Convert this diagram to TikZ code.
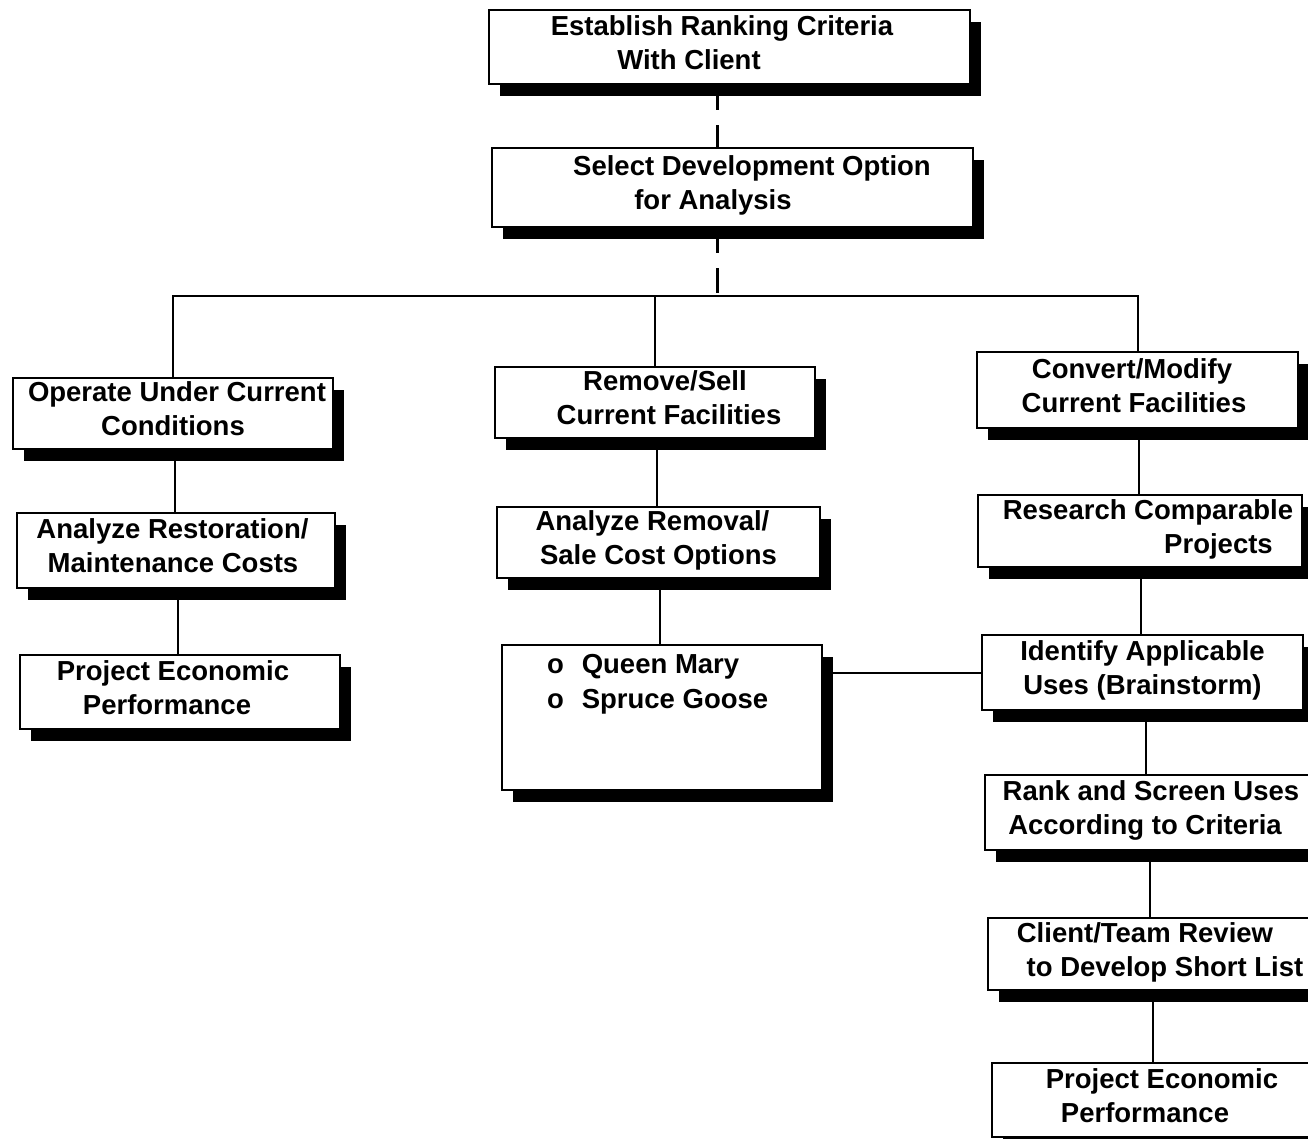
\documentclass[tikz,border=0pt]{standalone}
\usepackage{fontspec}
\setmainfont{Liberation Sans}
\usetikzlibrary{shadows,calc}
\newcommand\gap[1]{\makebox[#1]{}}
\begin{document}
\begin{tikzpicture}[x=0.5pt,y=-0.5pt,
  boxbase/.style={draw=black, line width=1.2pt, fill=white, inner sep=0pt, align=center,
    font=\bfseries\fontsize{13.75pt}{17pt}\selectfont,
    drop shadow={shadow xshift=5.5pt, shadow yshift=-6pt, fill=black, opacity=1}},
  box/.style={boxbase, text depth=4.5pt},
  link/.style={line width=1pt},
  dashlink/.style={line width=1.5pt, dash pattern=on 12.5pt off 7.5pt}]
\useasboundingbox (0,0) rectangle (1308,1139);

% top boxes
\node[box, minimum width=240.5pt, minimum height=37pt] (b1) at (729.5,47)
  {Establish Ranking Criteria\gap{7.5pt}\\With Client\gap{40.5pt}};
\node[box, minimum width=240.5pt, minimum height=39.5pt] (b2) at (732.5,187.5)
  {\gap{19.5pt}Select Development Option\\for Analysis\gap{19.5pt}};

% left column
\node[box, minimum width=160pt, minimum height=35.5pt] (b3) at (173,413.5)
  {\gap{4pt}Operate Under Current\\Conditions};
\node[box, minimum width=159pt, minimum height=37.5pt] (b4) at (176,550.5)
  {Analyze Restoration/\gap{3.5pt}\\Maintenance Costs\gap{3pt}};
\node[box, minimum width=160pt, minimum height=37pt] (b5) at (180,692)
  {Project Economic\gap{7pt}\\Performance\gap{13pt}};

% middle column
\node[box, minimum width=160pt, minimum height=35.5pt] (b6) at (655,402.5)
  {\gap{10pt}Remove/Sell\\\gap{14pt}Current Facilities};
\node[box, minimum width=161.5pt, minimum height=35.5pt] (b7) at (658.5,542.5)
  {Analyze Removal/\gap{6pt}\\Sale Cost Options};
\node[boxbase, minimum width=160pt, minimum height=72.5pt] (b8) at (662,717.5)
  {\parbox[c][72.5pt][t]{160pt}{\raggedright\baselineskip=17.5pt
    \vspace*{4.5pt}\hspace*{22.5pt}o\hspace{9pt}Queen Mary\\
    \hspace*{22.5pt}o\hspace{9pt}Spruce Goose}};

% right column
\node[box, minimum width=160.5pt, minimum height=38pt] (b9) at (1137.5,390)
  {Convert/Modify\gap{5.5pt}\\Current Facilities\gap{3.5pt}};
\node[box, minimum width=162pt, minimum height=36pt] (b10) at (1140,531)
  {\gap{8pt}Research Comparable\\\gap{78.5pt}Projects};
\node[box, minimum width=160.5pt, minimum height=37.5pt] (b11) at (1142.5,672.5)
  {Identify Applicable\\Uses (Brainstorm)};
\node[box, minimum width=163.5pt, minimum height=37.5pt] (b12) at (1148.5,812.5)
  {\gap{2.5pt}Rank and Screen Uses\\According to Criteria\gap{3.5pt}};
\node[box, minimum width=163pt, minimum height=36pt] (b13) at (1151,954)
  {Client/Team Review\gap{6pt}\\\gap{14pt}to Develop Short List};
\node[box, minimum width=162pt, minimum height=37pt] (b14) at (1154,1100)
  {\gap{8pt}Project Economic\\Performance\gap{9pt}};

% dashed trunk
\coordinate (hub) at (717,296);
\draw[dashlink] (b1.south -| hub) -- (b2.north -| hub);
\draw[dashlink] (b2.south -| hub) -- (hub);

% branch bar
\draw[link] (b3.north) -- (b3.north |- hub) -- (b9.north |- hub) -- (b9.north);
\draw[link] (b6.north |- hub) -- (b6.north);

% vertical links
\foreach \a/\b in {b3/b4,b4/b5,b6/b7,b7/b8,b9/b10,b10/b11,b11/b12,b12/b13,b13/b14}{
  \coordinate (m-\a-\b) at ($(\a.south)!.5!(\b.north)$);
  \draw[link] (m-\a-\b |- \a.south) -- (m-\a-\b |- \b.north);
}

% cross link
\draw[link] (b8.east |- b11.west) -- (b11.west);
\end{tikzpicture}
\end{document}
